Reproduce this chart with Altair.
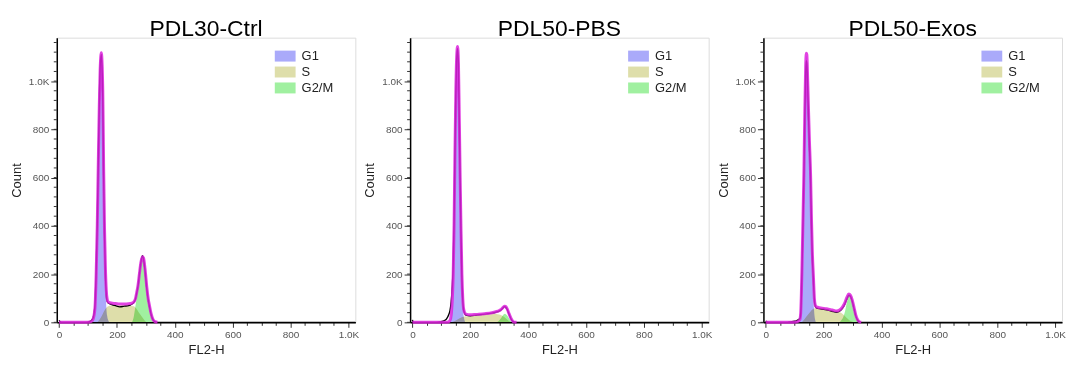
import altair as alt
import pandas as pd

# ---------------- data ----------------
TITLES = ["PDL30-Ctrl", "PDL50-PBS", "PDL50-Exos"]
PHASES = ["G1", "S", "G2/M"]
PHASE_COLORS = ["#aaaafa", "#dedeaa", "#a0f0a0"]

# Panel 1 : PDL30-Ctrl
P1_X = [0, 3, 8, 95, 105, 112, 118, 124, 128, 132, 135, 139, 142, 146, 149, 151, 154, 157, 160, 163,
        166, 170, 180, 195, 210, 225, 240, 252, 258, 264, 268, 273, 278, 283, 288, 292, 297, 303, 308, 312,
        318, 325, 332, 340, 1024]
P1_FIT = [0, 0, 0, 0, 1, 4, 15, 60, 190, 400, 620, 900, 1050, 1118, 1060, 960, 640, 390, 230, 135,
          98, 84, 80, 78, 76, 76, 77, 80, 84, 98, 122, 155, 205, 250, 272, 266, 222, 148, 98, 72,
          36, 11, 3, 0, 0]
P1_RAW = [8, 3, 0, 0, 3, 8, 20, 72, 205, 410, 630, 910, 1060, 1110, 1040, 935, 610, 370, 210, 120,
          88, 80, 75, 69, 64, 67, 69, 76, 82, 96, 120, 152, 205, 252, 276, 262, 216, 142, 94, 68,
          33, 10, 2, 0, 0]
P1_G1_X = [110, 118, 124, 128, 132, 135, 139, 142, 146, 149, 151, 154, 157, 160, 163, 166, 170, 175]
P1_G1_Y = [0, 10, 55, 180, 380, 600, 880, 1030, 1105, 1045, 940, 610, 360, 190, 70, 28, 8, 0]
P1_S_X = [132, 140, 150, 160, 168, 180, 200, 220, 240, 258, 265, 275, 285, 295, 303]
P1_S_Y = [0, 12, 33, 55, 66, 70, 71, 70, 69, 67, 60, 42, 25, 9, 0]
P1_G2_X = [252, 258, 263, 268, 273, 278, 283, 288, 292, 297, 303, 308, 312, 318, 325, 332]
P1_G2_Y = [0, 22, 60, 100, 140, 192, 238, 264, 258, 214, 140, 90, 62, 30, 8, 0]

# Panel 2 : PDL50-PBS
P2_X = [0, 2, 6, 80, 90, 100, 110, 118, 125, 130, 134, 138, 141, 144, 147, 150, 153, 156, 159, 162,
        165, 168, 171, 174, 178, 185, 200, 220, 250, 275, 295, 305, 312, 318, 322, 328, 334, 340, 346, 352,
        360, 1024]
P2_FIT = [0, 0, 0, 0, 0, 0, 0, 0, 2, 8, 30, 100, 200, 400, 700, 950, 1100, 1143, 1080, 850,
          600, 380, 200, 100, 50, 34, 31, 33, 36, 40, 46, 52, 60, 67, 66, 55, 36, 18, 6, 1,
          0, 0]
P2_RAW = [10, 3, 0, 0, 1, 3, 7, 14, 30, 50, 85, 150, 240, 420, 710, 950, 1090, 1135, 1070, 840,
          590, 370, 190, 95, 46, 30, 27, 30, 34, 38, 44, 50, 58, 65, 63, 52, 33, 16, 5, 1,
          0, 0]
P2_G1_X = [128, 133, 138, 141, 144, 147, 150, 153, 156, 159, 162, 165, 168, 171, 174, 178, 183]
P2_G1_Y = [0, 15, 80, 180, 380, 680, 930, 1080, 1130, 1060, 830, 580, 350, 170, 70, 20, 0]
P2_S_X = [135, 150, 165, 180, 200, 220, 250, 280, 300, 315, 330, 340]
P2_S_Y = [0, 8, 18, 24, 26, 28, 32, 35, 33, 24, 9, 0]
P2_G2_X = [292, 300, 308, 315, 320, 326, 333, 340, 348]
P2_G2_Y = [0, 8, 20, 32, 36, 30, 18, 6, 0]

# Panel 3 : PDL50-Exos
P3_X = [0, 3, 8, 75, 85, 95, 105, 112, 118, 121, 123, 125, 128, 132, 135, 138, 140, 142, 145, 148,
        151, 155, 158, 161, 165, 168, 171, 175, 190, 210, 230, 245, 255, 265, 272, 280, 287, 293, 299, 305,
        311, 317, 323, 330, 1024]
P3_FIT = [0, 0, 0, 0, 0, 0, 1, 4, 12, 42, 112, 212, 385, 625, 870, 1060, 1115, 1110, 1000, 872,
          752, 610, 430, 292, 182, 100, 72, 64, 60, 56, 51, 47, 51, 63, 77, 102, 117, 112, 92, 62,
          31, 12, 3, 0, 0]
P3_RAW = [6, 2, 0, 0, 2, 4, 6, 10, 16, 40, 108, 205, 375, 615, 855, 1030, 1085, 1075, 975, 850,
          735, 595, 415, 278, 170, 94, 68, 60, 56, 52, 46, 42, 46, 58, 72, 96, 113, 108, 88, 58,
          28, 10, 2, 0, 0]
P3_G1_X = [115, 118, 121, 123, 125, 128, 132, 135, 138, 140, 142, 145, 148, 151, 155, 158, 161, 164, 167, 170, 174]
P3_G1_Y = [0, 8, 38, 105, 200, 370, 610, 860, 1050, 1105, 1100, 990, 860, 740, 600, 420, 260, 130, 50, 15, 0]
P3_S_X = [125, 135, 145, 155, 165, 175, 190, 210, 230, 250, 260, 270, 280, 290, 300, 305]
P3_S_Y = [0, 15, 30, 45, 56, 58, 56, 53, 48, 44, 40, 30, 18, 8, 2, 0]
P3_G2_X = [255, 262, 268, 274, 280, 286, 290, 295, 300, 306, 312, 318, 325]
P3_G2_Y = [0, 10, 22, 45, 80, 108, 112, 100, 80, 50, 25, 8, 0]

X_TICKS = list(range(0, 1001, 50))          # major every 200, minor every 50
Y_MAJOR = [0, 200, 400, 600, 800, 1000]
Y_MINOR = list(range(0, 1161, 40))

# ---------------- chart ----------------
FONT = "Liberation Sans"
MAGENTA = "#dd22dd"

x_scale = alt.Scale(domain=[-8, 1024], nice=False, zero=False)
y_scale = alt.Scale(domain=[0, 1180], nice=False, zero=False)

LABEL_EXPR = "datum.value % 200 === 0 ? (datum.value >= 1000 ? '1.0K' : datum.label) : ''"

x_axis = alt.Axis(
    values=X_TICKS, title="FL2-H", grid=False,
    labelExpr=LABEL_EXPR, format="d", labelFlush=False, labelOverlap=False,
    tickSize={"condition": {"test": "datum.value % 200 === 0", "value": 5}, "value": 3},
    tickColor="#333", domainColor="black", domainWidth=1.5,
    labelFontSize=10, labelColor="#555", labelFont=FONT, labelPadding=2,
    titleFont=FONT, titleFontSize=13, titleFontWeight="normal", titleColor="#222", titlePadding=4,
)
y_axis = alt.Axis(
    values=Y_MAJOR, title="Count", grid=False,
    labelExpr="datum.value >= 1000 ? '1.0K' : datum.label",
    format="d", labelFlush=False, labelOverlap=False,
    tickSize=6, tickColor="#333", domainColor="black", domainWidth=1.5,
    labelFontSize=10, labelColor="#555", labelFont=FONT, labelPadding=2,
    titleFont=FONT, titleFontSize=13, titleFontWeight="normal", titleColor="#222", titlePadding=5,
)


def panel(title, gx, fit, raw, comps):
    rows = []
    for phase, (xs, ys) in zip(PHASES, comps):
        for a, b in zip(xs, ys):
            rows.append({"v": a, "c": b, "phase": phase})
    area_df = pd.DataFrame(rows)
    line_df = pd.DataFrame({"v": gx, "fit": fit, "raw": raw})
    minor_df = pd.DataFrame({"t": Y_MINOR})

    X = alt.X("v:Q", scale=x_scale, axis=x_axis)

    areas = alt.Chart(area_df).mark_area(
        interpolate="monotone", blend="multiply", opacity=1
    ).encode(
        x=X,
        y=alt.Y("c:Q", scale=y_scale, axis=y_axis, stack=None),
        color=alt.Color(
            "phase:N",
            scale=alt.Scale(domain=PHASES, range=PHASE_COLORS),
            sort=PHASES,
            legend=alt.Legend(
                title=None, orient="none", legendX=223, legendY=12,
                symbolType="M-1.9,-1H1.9V1H-1.9Z", symbolSize=121,
                symbolStrokeWidth=0, symbolOpacity=1,
                labelFont=FONT, labelFontSize=13, labelColor="#222",
                labelOffset=10, rowPadding=2, padding=0,
            ),
        ),
    )
    raw_line = alt.Chart(line_df).mark_line(
        color="black", strokeWidth=1.4, interpolate="monotone"
    ).encode(x=X, y=alt.Y("raw:Q", scale=y_scale, axis=y_axis))
    fit_line = alt.Chart(line_df).transform_filter("datum.v <= 400").mark_line(
        color=MAGENTA, strokeWidth=3, opacity=0.85, interpolate="monotone"
    ).encode(x=X, y=alt.Y("fit:Q", scale=y_scale, axis=y_axis))
    # minor ticks on the count axis, placed by the y scale
    minor = alt.Chart(minor_df).mark_rule(color="#333", strokeWidth=1).encode(
        y=alt.Y("t:Q", scale=y_scale, axis=y_axis),
        x=alt.value(-3), x2=alt.value(0),
    )

    return alt.layer(areas, raw_line, fit_line, minor).properties(
        width=300, height=286,
        title=alt.Title(title, fontSize=23, font=FONT, fontWeight="normal",
                        color="black", anchor="middle", offset=-3),
    )


charts = [
    panel(TITLES[0], P1_X, P1_FIT, P1_RAW,
          [(P1_G1_X, P1_G1_Y), (P1_S_X, P1_S_Y), (P1_G2_X, P1_G2_Y)]),
    panel(TITLES[1], P2_X, P2_FIT, P2_RAW,
          [(P2_G1_X, P2_G1_Y), (P2_S_X, P2_S_Y), (P2_G2_X, P2_G2_Y)]),
    panel(TITLES[2], P3_X, P3_FIT, P3_RAW,
          [(P3_G1_X, P3_G1_Y), (P3_S_X, P3_S_Y), (P3_G2_X, P3_G2_Y)]),
]

left_pair = alt.hconcat(charts[0], charts[1], spacing=3).resolve_scale(
    color="independent"
).resolve_legend(color="independent")

chart = alt.hconcat(left_pair, charts[2], spacing=3).resolve_scale(
    color="independent"
).resolve_legend(color="independent").configure_view(
    stroke="black", strokeWidth=1.5
).configure_axis(labelOverlap=False).configure(
    background="white", padding={"top": 8, "left": 1, "right": 0, "bottom": -2}
)

chart.save("out.html", embed_options={"renderer": "svg", "actions": False})
